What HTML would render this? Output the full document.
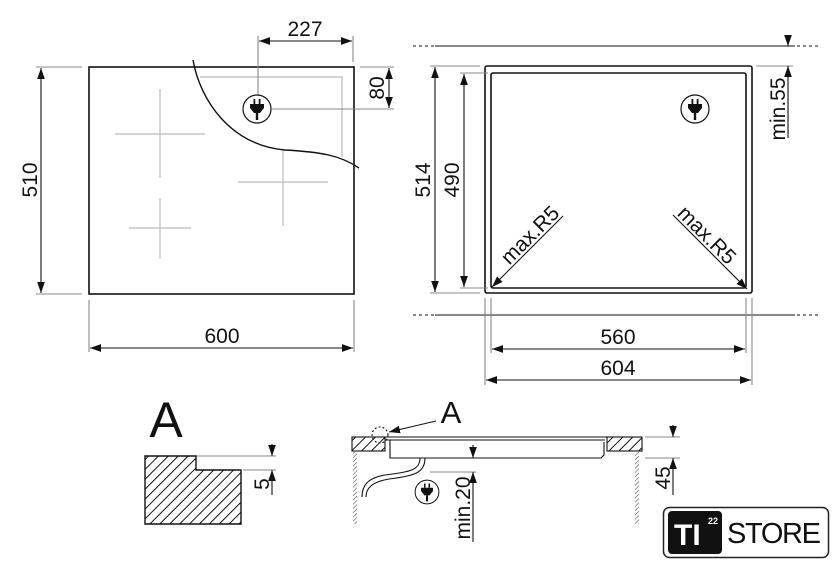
<!DOCTYPE html>
<html><head><meta charset="utf-8"><style>
html,body{margin:0;padding:0;background:#fff;}
svg{display:block;}
text{font-family:"Liberation Sans",sans-serif;fill:#111;}
</style></head><body>
<svg width="840" height="564" viewBox="0 0 840 564" xmlns="http://www.w3.org/2000/svg">
<defs>
<marker id="a" viewBox="0 0 10 10" refX="10" refY="5" markerWidth="11" markerHeight="11" orient="auto-start-reverse" markerUnits="userSpaceOnUse"><path d="M0,1.5 L10,5 L0,8.5 z" fill="#111"/></marker>
<pattern id="h" width="7" height="7" patternUnits="userSpaceOnUse" patternTransform="rotate(45)"><line x1="0" y1="0" x2="0" y2="7" stroke="#111" stroke-width="2"/></pattern>
<pattern id="hs" width="3" height="3" patternUnits="userSpaceOnUse" patternTransform="rotate(45)"><line x1="0" y1="0" x2="0" y2="3" stroke="#333" stroke-width="1"/></pattern>
<g id="plug"><circle cx="0" cy="0" r="14" fill="none" stroke="#111" stroke-width="1.2"/><rect x="-3.5" y="-10" width="1.8" height="5" fill="#111"/><rect x="1.7" y="-10" width="1.8" height="5" fill="#111"/><path d="M-7,-5 H7 V-1 L3,4 H-3 L-7,-1 z" fill="#111"/><rect x="-1.2" y="4" width="2.4" height="7" fill="#111"/></g>
</defs>
<g stroke="#111" fill="none" stroke-width="1.1">
<g stroke="#bbb" stroke-width="1.2">
<line x1="115" y1="134" x2="205" y2="134"/><line x1="160" y1="89" x2="160" y2="178"/>
<line x1="238" y1="182" x2="328" y2="182"/><line x1="283" y1="150" x2="283" y2="226"/>
<line x1="129" y1="228" x2="191" y2="228"/><line x1="160" y1="198" x2="160" y2="259"/>
<polyline points="200,77 342,77 342,157"/>
</g>
<rect x="89" y="67" width="265" height="227" stroke-width="1.6"/>
<path d="M193,60 C200,100 230,145 285,150 C320,152 340,155 359,168" stroke-width="1.4" fill="none"/>
<g stroke="#888"><line x1="258" y1="36" x2="258" y2="96"/><line x1="353" y1="36" x2="353" y2="62"/>
<line x1="360" y1="67" x2="394" y2="67"/><line x1="272" y1="109" x2="394" y2="109"/>
<line x1="36" y1="67" x2="82" y2="67"/><line x1="36" y1="294" x2="82" y2="294"/>
<line x1="89" y1="300" x2="89" y2="352"/><line x1="354" y1="300" x2="354" y2="352"/></g>
<line x1="259" y1="41" x2="352" y2="41" marker-start="url(#a)" marker-end="url(#a)"/>
<line x1="389" y1="68" x2="389" y2="108" marker-start="url(#a)" marker-end="url(#a)"/>
<line x1="41" y1="68" x2="41" y2="293" marker-start="url(#a)" marker-end="url(#a)"/>
<line x1="90" y1="348" x2="353" y2="348" marker-start="url(#a)" marker-end="url(#a)"/>
<line x1="413" y1="46" x2="820" y2="46" stroke-dasharray="3 3"/><line x1="435" y1="46" x2="795" y2="46"/>
<line x1="413" y1="315" x2="820" y2="315" stroke-dasharray="3 3"/><line x1="435" y1="315" x2="795" y2="315"/>
<rect x="485" y="66" width="267" height="227" rx="2" stroke-width="1.6"/>
<rect x="491" y="73" width="255" height="215" rx="2" stroke-width="1.6"/>
<g stroke="#888"><line x1="430" y1="66" x2="480" y2="66"/><line x1="430" y1="293" x2="480" y2="293"/>
<line x1="460" y1="73" x2="488" y2="73"/><line x1="460" y1="288" x2="488" y2="288"/>
<line x1="756" y1="66" x2="793" y2="66"/>
<line x1="485" y1="298" x2="485" y2="385"/><line x1="752" y1="298" x2="752" y2="385"/>
<line x1="491" y1="298" x2="491" y2="353"/><line x1="746" y1="298" x2="746" y2="353"/></g>
<line x1="788" y1="36" x2="788" y2="46" marker-end="url(#a)"/>
<line x1="788" y1="138" x2="788" y2="66" marker-end="url(#a)"/>
<line x1="435" y1="67" x2="435" y2="292" marker-start="url(#a)" marker-end="url(#a)"/>
<line x1="464" y1="74" x2="464" y2="287" marker-start="url(#a)" marker-end="url(#a)"/>
<line x1="563" y1="216" x2="492" y2="287" marker-end="url(#a)"/>
<line x1="673" y1="215" x2="747" y2="289" marker-end="url(#a)"/>
<line x1="492" y1="349" x2="745" y2="349" marker-start="url(#a)" marker-end="url(#a)"/>
<line x1="486" y1="380" x2="751" y2="380" marker-start="url(#a)" marker-end="url(#a)"/>
<path d="M145,456 H196 V470 H241 V524 H145 z" fill="url(#h)" stroke-width="1.4"/>
<g stroke="#888"><line x1="197" y1="456" x2="276" y2="456"/><line x1="243" y1="470" x2="276" y2="470"/></g>
<line x1="272" y1="444" x2="272" y2="456" marker-end="url(#a)"/>
<line x1="272" y1="495" x2="272" y2="470" marker-end="url(#a)"/>
<rect x="352" y="437" width="33" height="14" fill="url(#h)"/>
<rect x="607" y="437" width="35" height="14" fill="url(#h)"/>
<line x1="385" y1="437" x2="607" y2="437"/><line x1="385" y1="440" x2="605" y2="440"/>
<path d="M390,440 V458 H601 L604,455 V442"/>
<rect x="353" y="452" width="4" height="72" fill="url(#hs)" stroke="none"/>
<rect x="635" y="452" width="4" height="72" fill="url(#hs)" stroke="none"/>
<path d="M420,458 C420,470 410,472 385,475 C368,478 362,485 362,497"/>
<path d="M425,458 C425,473 414,476 389,479 C372,482 366,488 366,497"/>
<circle cx="380" cy="435" r="8" stroke-dasharray="2 2"/>
<line x1="436" y1="421" x2="389" y2="432" marker-end="url(#a)"/>
<g stroke="#888"><line x1="430" y1="472" x2="476" y2="472"/><line x1="645" y1="437" x2="680" y2="437"/><line x1="645" y1="458" x2="680" y2="458"/></g>
<line x1="473" y1="445" x2="473" y2="458" marker-end="url(#a)"/>
<line x1="473" y1="542" x2="473" y2="472" marker-end="url(#a)"/>
<line x1="673" y1="425" x2="673" y2="437" marker-end="url(#a)"/>
<line x1="673" y1="495" x2="673" y2="458" marker-end="url(#a)"/>
</g>
<use href="#plug" x="257" y="109"/>
<use href="#plug" x="695" y="109"/>
<g transform="translate(427 492) scale(0.85)"><use href="#plug"/></g>
<g font-size="21">
<text x="305" y="36" text-anchor="middle">227</text>
<text x="222" y="343" text-anchor="middle">600</text>
<text transform="translate(384 88) rotate(-90)" text-anchor="middle">80</text>
<text transform="translate(37 180) rotate(-90)" text-anchor="middle">510</text>
<text transform="translate(430 180) rotate(-90)" text-anchor="middle">514</text>
<text transform="translate(459 180) rotate(-90)" text-anchor="middle">490</text>
<text transform="translate(785 109) rotate(-90)" text-anchor="middle">min.55</text>
<text transform="translate(535 240) rotate(-45)" text-anchor="middle">max.R5</text>
<text transform="translate(702 240) rotate(45)" text-anchor="middle">max.R5</text>
<text x="618" y="344" text-anchor="middle">560</text>
<text x="618" y="375" text-anchor="middle">604</text>
<text transform="translate(269 484) rotate(-90)" text-anchor="middle">5</text>
<text transform="translate(470 508) rotate(-90)" text-anchor="middle">min.20</text>
<text transform="translate(670 478) rotate(-90)" text-anchor="middle">45</text>
</g>
<text x="166" y="437" font-size="50" text-anchor="middle">A</text>
<text x="451" y="423" font-size="31" text-anchor="middle">A</text>
<rect x="663.5" y="507.5" width="165" height="50" rx="6" fill="#fff" stroke="#222" stroke-width="1.5"/>
<rect x="668" y="511" width="54" height="43" rx="4" fill="#111"/>
<text x="674" y="545" font-size="30" font-weight="bold" style="fill:#fff">TI</text>
<text x="708" y="524" font-size="9" font-weight="bold" style="fill:#fff">22</text>
<text x="727" y="543" font-size="29" textLength="94">STORE</text>
</svg>
</body></html>
